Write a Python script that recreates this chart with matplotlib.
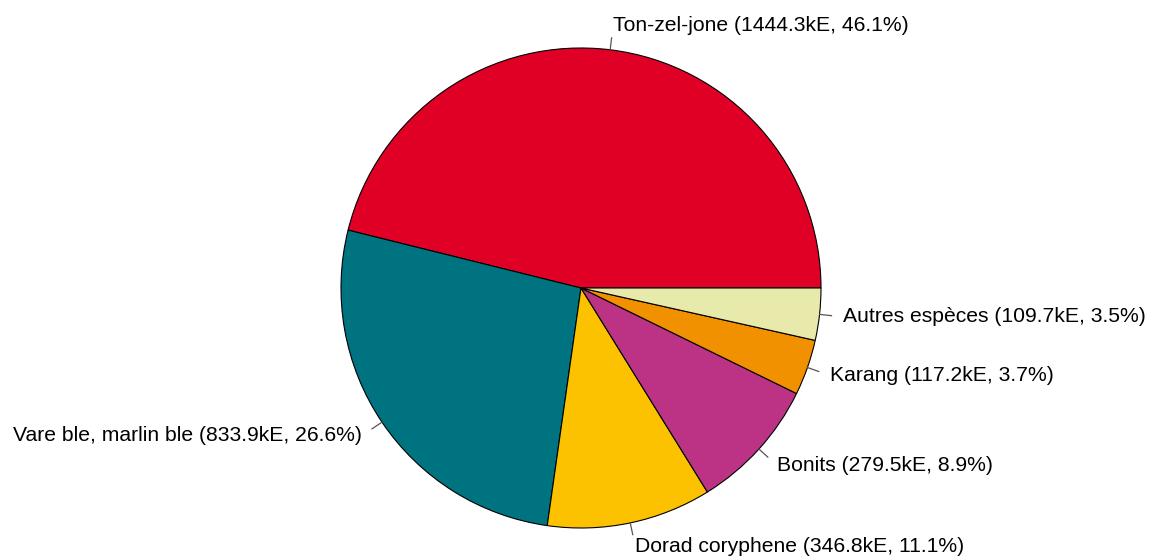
import numpy as np
import matplotlib.pyplot as plt

# Données
especes = ['Ton-zel-jone', 'Vare ble, marlin ble', 'Dorad coryphene',
           'Bonits', 'Karang', 'Autres espèces']
valeurs = [1444.3, 833.9, 346.8, 279.5, 117.2, 109.7]   # kE
couleurs = ['#E00026', '#007380', '#FCC200', '#BC3385', '#F29100', '#E8EAAB']

plt.rcParams['font.family'] = ['Liberation Sans', 'DejaVu Sans']

W, H = 1151, 558
cx, cy, R = 581, 288, 240   # centre et rayon en pixels

fig = plt.figure(figsize=(W / 100, H / 100), dpi=100)
ax = fig.add_axes([0, 0, 1, 1])

total = sum(valeurs)
wedges, _ = ax.pie(valeurs, colors=couleurs, startangle=0, counterclock=True,
                   radius=1, center=(0, 0), frame=True,
                   wedgeprops=dict(edgecolor='black', linewidth=0.8))
ax.set_xlim(-cx / R, (W - cx) / R)
ax.set_ylim(-(H - cy) / R, cy / R)
ax.axis('off')

# Étiquettes façon R : trait de 1.0 à 1.05, texte à 1.1
for w, nom, v in zip(wedges, especes, valeurs):
    a = np.deg2rad((w.theta1 + w.theta2) / 2)
    c, s = np.cos(a), np.sin(a)
    ax.plot([c, 1.05 * c], [s, 1.05 * s], color='#555555', lw=0.9)
    txt = f'{nom} ({v:.1f}kE, {100 * v / total:.1f}%)'
    ax.text(1.1 * c, 1.1 * s, txt, fontsize=15.2,
            ha='left' if c > 0 else 'right', va='center')

fig.savefig('out.png', dpi=100)
